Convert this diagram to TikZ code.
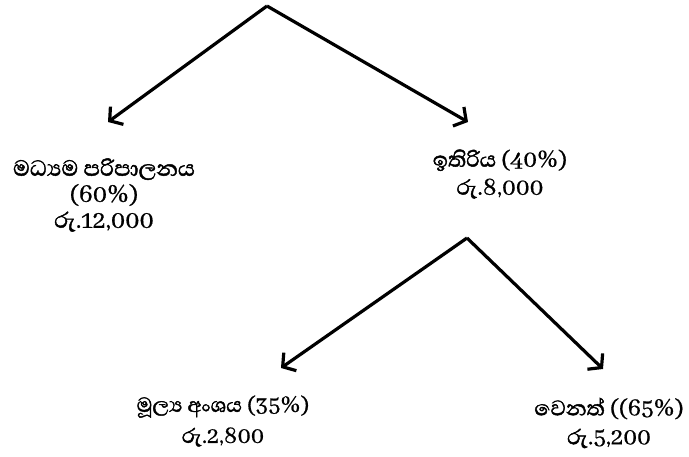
\documentclass[tikz,border=0pt]{standalone}
\usepackage{fontspec}
\setmainfont{Abhaya Libre}[Script=Sinhala,FakeBold=0.6]
\newfontfamily\sinb{Abhaya Libre}[Script=Sinhala,FakeBold=1.6]
\usetikzlibrary{arrows.meta}
\tikzset{
  branch/.style={line width=3.2pt,-{Straight Barb[length=9pt,width=22pt,line width=3.2pt]}},
  lbl/.style={align=center,inner sep=0pt,font=\fontsize{27}{27}\selectfont}
}
\begin{document}
\begin{tikzpicture}[x=1pt,y=-1pt]
\useasboundingbox (0,0) rectangle (689,457);
\coordinate (top) at (267,6);
\coordinate (tl) at (108,122);
\coordinate (tr) at (468,122);
\coordinate (mid) at (467,238);
\coordinate (bl) at (281,368);
\coordinate (br) at (603,369);
\draw[branch] (top) -- (tl);
\draw[branch] (top) -- (tr);
\draw[branch] (mid) -- (bl);
\draw[branch] (mid) -- (br);
\node[lbl,font=\fontsize{28}{26}\selectfont] (admin) at (104,195) {{\sinb මධ්^^^^200dයම පරිපාලනය}\\(60\%)\\{\sinb රු}.12,000};
\node[lbl,font=\fontsize{27}{28}\selectfont] (rest) at (500,174) {{\sinb ඉතිරිය} (40\%)\\{\sinb රු}.8,000};
\node[lbl,font=\fontsize{26}{31}\selectfont] (fin) at (223,421) {{\sinb මූල්^^^^200dය අංශය} (35\%)\\{\sinb රු}.2,800};
\node[lbl,font=\fontsize{27}{29}\selectfont] (other) at (609,423) {{\sinb වෙනත්} ((65\%)\\{\sinb රු}.5,200};
\end{tikzpicture}
\end{document}
